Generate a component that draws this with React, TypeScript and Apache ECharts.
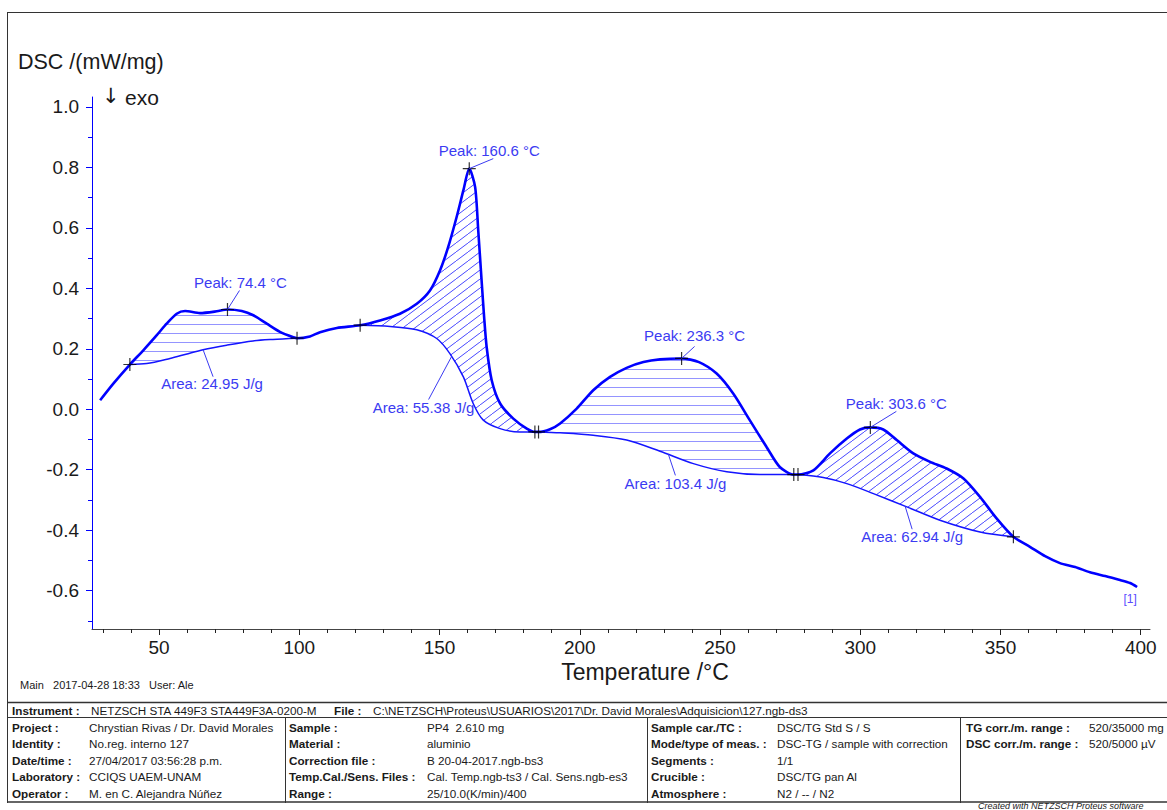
import { useEffect, useRef } from 'react';
import * as echarts from 'echarts';

// DSC trace: temperature (°C) and heat flow (mW/mg)
const curveTemp = [29.0, 33.7, 39.6, 44.4, 49.2, 52.7, 56.3, 59.3, 64.6, 70.6, 74.4, 79.5, 83.6, 88.4, 93.1, 97.9, 99.2, 103.8, 107.4, 113.4, 121.7, 128.8, 135.9, 141.9, 146.6, 150.2, 153.1, 156.1, 158.5, 160.6, 162.7, 163.8, 165.0, 165.9, 166.8, 168.6, 171.6, 176.3, 181.1, 184.0, 185.3, 189.4, 193.0, 198.9, 204.8, 210.8, 216.7, 222.7, 228.6, 236.3, 242.5, 248.8, 254.7, 260.6, 266.6, 271.3, 276.3, 277.8, 283.3, 289.2, 295.2, 299.9, 303.6, 308.2, 313.0, 318.9, 324.9, 330.8, 336.8, 342.7, 348.6, 354.6, 360.5, 365.9, 371.2, 376.6, 381.9, 387.3, 392.6, 396.2, 398.7];
const curveDsc = [0.030, 0.085, 0.148, 0.195, 0.245, 0.283, 0.316, 0.325, 0.318, 0.324, 0.330, 0.325, 0.311, 0.283, 0.256, 0.238, 0.235, 0.241, 0.255, 0.269, 0.278, 0.294, 0.316, 0.349, 0.393, 0.460, 0.537, 0.636, 0.724, 0.796, 0.735, 0.592, 0.426, 0.305, 0.206, 0.096, 0.019, -0.031, -0.064, -0.075, -0.075, -0.066, -0.047, 0.002, 0.063, 0.107, 0.137, 0.156, 0.165, 0.168, 0.156, 0.118, 0.052, -0.036, -0.125, -0.191, -0.216, -0.216, -0.202, -0.146, -0.097, -0.067, -0.060, -0.067, -0.102, -0.146, -0.174, -0.196, -0.229, -0.290, -0.361, -0.422, -0.455, -0.486, -0.509, -0.522, -0.539, -0.552, -0.565, -0.575, -0.588];

// Integration limits and results
const areaStart = [39.6, 121.7, 185.3, 277.8];
const areaEnd = [99.2, 184.0, 276.3, 354.6];
const areaValue = [24.95, 55.38, 103.4, 62.94];

// Baselines under each integrated effect
const base1Temp = [39.6, 45.6, 53.9, 59.6, 65.7, 74.1, 83.5, 90.6, 99.2];
const base1Dsc = [0.148, 0.151, 0.168, 0.182, 0.197, 0.212, 0.226, 0.231, 0.235];
const base2Temp = [121.7, 132.4, 141.9, 149.0, 153.7, 158.5, 162.0, 165.6, 171.6, 178.7, 184.0];
const base2Dsc = [0.278, 0.274, 0.263, 0.234, 0.184, 0.107, 0.019, -0.036, -0.064, -0.075, -0.075];
const base3Temp = [185.3, 193.0, 204.8, 216.7, 228.6, 240.5, 252.4, 264.3, 276.3];
const base3Dsc = [-0.075, -0.078, -0.086, -0.102, -0.139, -0.180, -0.207, -0.216, -0.216];
const base4Temp = [277.8, 286.8, 295.2, 304.7, 316.6, 328.4, 342.7, 354.6];
const base4Dsc = [-0.216, -0.226, -0.246, -0.279, -0.323, -0.367, -0.406, -0.422];

// Peak temperatures
const peakTemp = [74.4, 160.6, 236.3, 303.6];

// Axis ticks
const xLabelTicks = [50, 100, 150, 200, 250, 300, 350, 400];
const yLabelTicks = [-0.6, -0.4, -0.2, 0.0, 0.2, 0.4, 0.6, 0.8, 1.0];
const X_MIN = 26.1;
const X_MAX = 403.3;
const Y_MIN = -0.727;
const Y_MAX = 1.033;

const xMinorTicks: number[] = [];
for (let t = 30; t <= 400; t += 10) if (t % 50 !== 0) xMinorTicks.push(t);
const yMinorTicks: number[] = [];
for (let k = -7; k <= 9; k += 2) yMinorTicks.push(k / 10);

// Label placement (pixel offsets from the anchor point)
const peakLeaderEnd = [[12, -19], [24, -10], [13, -12], [26, -16]];
const peakLabelPos = [[13, -27], [20, -18], [13, -23], [26, -24]];
const areaLeaderTemp = [65.7, 154.3, 231.6, 316.0];
const areaLeaderEnd = [[10, 27], [-23, 43], [7, 21], [7, 23]];
const areaLabelPos = [[9, 34], [-28, 51], [7, 29], [7, 30]];

const FONT = '"Liberation Sans", Arial, "DejaVu Sans", sans-serif';
const CURVE_BLUE = '#0000ff';
const NOTE_BLUE = '#3b3bf2';

// Header/footer table
const instrumentRow = ['Instrument :', 'NETZSCH STA 449F3 STA449F3A-0200-M', 'File :', 'C:\\NETZSCH\\Proteus\\USUARIOS\\2017\\Dr. David Morales\\Adquisicion\\127.ngb-ds3'];
const tableCol1 = [['Project :', 'Chrystian Rivas / Dr. David Morales'], ['Identity :', 'No.reg. interno 127'], ['Date/time :', '27/04/2017 03:56:28 p.m.'], ['Laboratory :', 'CCIQS UAEM-UNAM'], ['Operator :', 'M. en C. Alejandra Núñez']];
const tableCol2 = [['Sample :', 'PP4  2.610 mg'], ['Material :', 'aluminio'], ['Correction file :', 'B 20-04-2017.ngb-bs3'], ['Temp.Cal./Sens. Files :', 'Cal. Temp.ngb-ts3 / Cal. Sens.ngb-es3'], ['Range :', '25/10.0(K/min)/400']];
const tableCol3 = [['Sample car./TC :', 'DSC/TG Std S / S'], ['Mode/type of meas. :', 'DSC-TG / sample with correction'], ['Segments :', '1/1'], ['Crucible :', 'DSC/TG pan Al'], ['Atmosphere :', 'N2 / -- / N2']];
const tableCol4 = [['TG corr./m. range :', '520/35000 mg'], ['DSC corr./m. range :', '520/5000 µV']];

function interp(xs: number[], ys: number[], x: number): number {
  if (x <= xs[0]) return ys[0];
  for (let i = 1; i < xs.length; i++) {
    if (x <= xs[i]) {
      const f = (x - xs[i - 1]) / (xs[i] - xs[i - 1]);
      return ys[i - 1] + f * (ys[i] - ys[i - 1]);
    }
  }
  return ys[ys.length - 1];
}

function makeHatch(kind: 'h' | 'd') {
  const w = kind === 'h' ? 8 : 12;
  const h = 9;
  const c = document.createElement('canvas');
  c.width = w;
  c.height = h;
  const g = c.getContext('2d')!;
  g.strokeStyle = kind === 'h' ? 'rgba(60,60,255,0.55)' : 'rgba(40,40,255,0.85)';
  g.lineWidth = 1;
  g.beginPath();
  if (kind === 'h') {
    g.moveTo(0, 0.5);
    g.lineTo(w, 0.5);
  } else {
    for (let k = -1; k <= 1; k++) {
      g.moveTo(k * w, h);
      g.lineTo((k + 1) * w, 0);
    }
  }
  g.stroke();
  return { image: c.toDataURL(), repeat: 'repeat', imageWidth: w, imageHeight: h };
}

function buildOption() {
  const baseTemps = [base1Temp, base2Temp, base3Temp, base4Temp];
  const baseDscs = [base1Dsc, base2Dsc, base3Dsc, base4Dsc];
  const hatches = [makeHatch('h'), makeHatch('d'), makeHatch('h'), makeHatch('d')];

  const markerTemps = [...areaStart, ...areaEnd, ...peakTemp];
  const markerData = markerTemps.map((t) => [t, interp(curveTemp, curveDsc, t)]);

  type Note = { text: string; leader: number[] | null; label: number[]; size: number; color: string };
  const notes: Note[] = [];
  const noteData: number[][] = [];
  peakTemp.forEach((t, i) => {
    noteData.push([t, interp(curveTemp, curveDsc, t)]);
    notes.push({ text: `Peak: ${t.toFixed(1)} °C`, leader: peakLeaderEnd[i], label: peakLabelPos[i], size: 15, color: NOTE_BLUE });
  });
  areaValue.forEach((a, i) => {
    const t = areaLeaderTemp[i];
    noteData.push([t, interp(baseTemps[i], baseDscs[i], t)]);
    notes.push({ text: `Area: ${a} J/g`, leader: areaLeaderEnd[i], label: areaLabelPos[i], size: 15, color: NOTE_BLUE });
  });
  const lastI = curveTemp.length - 1;
  noteData.push([curveTemp[lastI], curveDsc[lastI]]);
  notes.push({ text: '[1]', leader: null, label: [-7, 12], size: 12, color: '#5a4cff' });

  const series: any[] = [];

  series.push({
    type: 'custom',
    name: 'areas',
    coordinateSystem: 'cartesian2d',
    silent: true,
    z: 1,
    data: areaStart.map((s, i) => [s, areaEnd[i]]),
    renderItem: (params: any, api: any) => {
      const i = params.dataIndex;
      const s = areaStart[i];
      const e = areaEnd[i];
      const pts: number[][] = [];
      pts.push(api.coord([s, interp(curveTemp, curveDsc, s)]));
      curveTemp.forEach((t, k) => {
        if (t > s && t < e) pts.push(api.coord([t, curveDsc[k]]));
      });
      pts.push(api.coord([e, interp(curveTemp, curveDsc, e)]));
      const bt = baseTemps[i];
      const bd = baseDscs[i];
      for (let k = bt.length - 1; k >= 0; k--) pts.push(api.coord([bt[k], bd[k]]));
      return {
        type: 'polygon',
        shape: { points: pts },
        style: { fill: hatches[i], stroke: 'none' },
      };
    },
  });

  baseTemps.forEach((bt, i) => {
    series.push({
      type: 'line',
      name: `baseline ${i + 1}`,
      data: bt.map((t, k) => [t, baseDscs[i][k]]),
      symbol: 'none',
      smooth: 0.3,
      silent: true,
      z: 2,
      lineStyle: { color: '#1414ff', width: 1.5 },
    });
  });

  series.push({
    type: 'line',
    name: 'DSC',
    data: curveTemp.map((t, k) => [t, curveDsc[k]]),
    symbol: 'none',
    smooth: 0.25,
    silent: true,
    z: 3,
    lineStyle: { color: CURVE_BLUE, width: 2.6 },
  });

  series.push({
    type: 'scatter',
    name: 'markers',
    data: markerData,
    symbol: 'path://M5 0 L5 10 M0 5 L10 5',
    symbolSize: 13,
    silent: true,
    z: 4,
    itemStyle: { color: 'rgba(0,0,0,0)', borderColor: '#000', borderWidth: 1.2 },
  });

  series.push({
    type: 'custom',
    name: 'notes',
    coordinateSystem: 'cartesian2d',
    silent: true,
    z: 5,
    data: noteData,
    renderItem: (params: any, api: any) => {
      const n = notes[params.dataIndex];
      const p = api.coord([api.value(0), api.value(1)]);
      const children: any[] = [];
      if (n.leader) {
        children.push({
          type: 'line',
          shape: { x1: p[0], y1: p[1], x2: p[0] + n.leader[0], y2: p[1] + n.leader[1] },
          style: { stroke: n.color, lineWidth: 1 },
        });
      }
      children.push({
        type: 'text',
        x: p[0] + n.label[0],
        y: p[1] + n.label[1],
        style: {
          text: n.text,
          fill: n.color,
          font: `${n.size}px ${FONT}`,
          textAlign: 'center',
          textVerticalAlign: 'middle',
        },
      });
      return { type: 'group', children };
    },
  });

  // Page frame, headings and the measurement table
  const g: any[] = [];
  const hline = (y: number, x1: number, x2: number, w = 1) =>
    g.push({ type: 'line', shape: { x1, y1: y, x2, y2: y }, style: { stroke: '#333', lineWidth: w } });
  const vline = (x: number, y1: number, y2: number) =>
    g.push({ type: 'line', shape: { x1: x, y1, x2: x, y2 }, style: { stroke: '#333', lineWidth: 1 } });
  const txt = (x: number, y: number, text: string, font: string, fill = '#1a1a1a', align = 'left') =>
    g.push({ type: 'text', x, y, style: { text, font, fill, textAlign: align, textVerticalAlign: 'middle' } });

  hline(12.5, 7, 1167);
  vline(7.5, 12, 803);
  hline(702.5, 7, 1167, 1.5);
  hline(717.5, 7, 1167);
  hline(802, 7, 1167, 1.5);
  vline(285.5, 717, 803);
  vline(647.5, 717, 803);
  vline(960.5, 717, 803);

  txt(18, 62, 'DSC /(mW/mg)', `21.5px ${FONT}`);
  txt(102, 96, '↓', `21px "DejaVu Sans", sans-serif`);
  txt(125, 97, 'exo', `21px ${FONT}`);
  txt(645, 672, 'Temperature /°C', `23px ${FONT}`, '#1a1a1a', 'center');
  txt(20, 685, 'Main   2017-04-28 18:33   User: Ale', `11px ${FONT}`);

  const bold = `bold 11.7px ${FONT}`;
  const reg = `11.7px ${FONT}`;
  txt(12, 710, instrumentRow[0], bold);
  txt(91, 710, instrumentRow[1], reg);
  txt(334, 710, instrumentRow[2], bold);
  txt(373, 710, instrumentRow[3], reg);
  const rowY = [727, 743.5, 760, 776.5, 793];
  const cols: [string[][], number, number][] = [
    [tableCol1, 12, 89],
    [tableCol2, 289, 427],
    [tableCol3, 651, 777],
    [tableCol4, 966, 1089],
  ];
  cols.forEach(([rows, lx, vx]) => {
    rows.forEach((r, i) => {
      txt(lx, rowY[i], r[0], bold);
      txt(vx, rowY[i], r[1], reg);
    });
  });
  txt(978, 805.5, 'Created with NETZSCH Proteus software', `italic 9px ${FONT}`);

  const xBase = {
    type: 'value',
    min: X_MIN,
    max: X_MAX,
    position: 'bottom',
    splitLine: { show: false },
  };
  const yBase = {
    type: 'value',
    min: Y_MIN,
    max: Y_MAX,
    position: 'left',
    splitLine: { show: false },
  };

  return {
    animation: false,
    backgroundColor: '#ffffff',
    textStyle: { fontFamily: FONT },
    grid: { left: 92, top: 97, width: 1058, height: 532, containLabel: false, outerBoundsMode: 'none' },
    xAxis: [
      {
        ...xBase,
        axisLine: { show: true, onZero: false, lineStyle: { color: '#444', width: 1 } },
        axisTick: { show: true, customValues: xLabelTicks, length: 6, lineStyle: { color: '#222' } },
        axisLabel: { show: true, customValues: xLabelTicks, fontSize: 19, color: '#1a1a1a', margin: 9, fontFamily: FONT },
      },
      {
        ...xBase,
        axisLine: { show: false, onZero: false },
        axisTick: { show: true, customValues: xMinorTicks, length: 4, lineStyle: { color: '#222' } },
        axisLabel: { show: false },
      },
    ],
    yAxis: [
      {
        ...yBase,
        axisLine: { show: true, onZero: false, lineStyle: { color: CURVE_BLUE, width: 1 } },
        axisTick: { show: true, customValues: yLabelTicks, length: 6, lineStyle: { color: CURVE_BLUE } },
        axisLabel: {
          show: true,
          customValues: yLabelTicks,
          fontSize: 19,
          color: '#1a1a1a',
          margin: 13,
          fontFamily: FONT,
          formatter: (v: number) => v.toFixed(1),
        },
      },
      {
        ...yBase,
        axisLine: { show: false, onZero: false },
        axisTick: { show: true, customValues: yMinorTicks, length: 4, lineStyle: { color: CURVE_BLUE } },
        axisLabel: { show: false },
      },
    ],
    series,
    graphic: g,
  };
}

export default function App() {
  const ref = useRef<HTMLDivElement>(null);
  useEffect(() => {
    if (!ref.current) return;
    const chart = echarts.init(ref.current, null, { renderer: 'svg' });
    chart.setOption(buildOption() as any);
    return () => chart.dispose();
  }, []);
  return (
    <div
      ref={ref}
      style={{ position: 'fixed', left: 0, top: 0, width: 1167, height: 810, background: '#fff' }}
    />
  );
}
